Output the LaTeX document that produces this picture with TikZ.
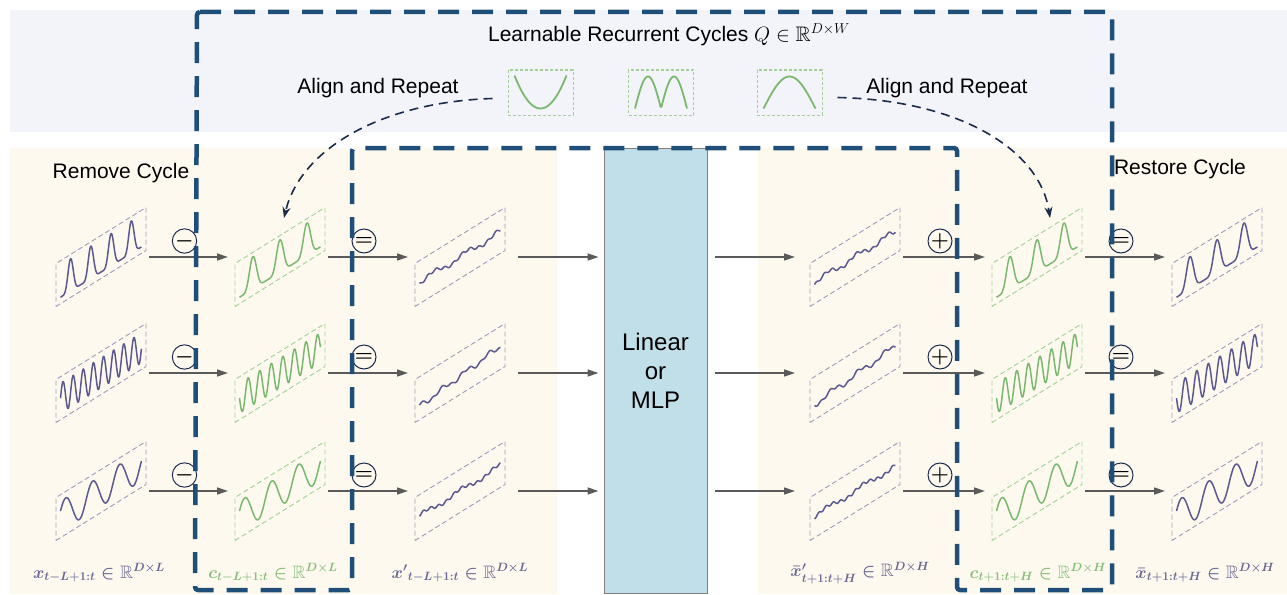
\documentclass[tikz,border=0pt]{standalone}
\usepackage{amsmath}
\usepackage{amssymb}
\usepackage{fontspec}
\setmainfont{Liberation Sans}
\usetikzlibrary{arrows.meta,positioning,calc}

\definecolor{frameblue}{HTML}{1F4E79}
\definecolor{navy}{HTML}{1C2B4C}
\definecolor{bandgrey}{HTML}{F3F4FA}
\definecolor{paneyellow}{HTML}{FDF9EE}
\definecolor{mlpblue}{HTML}{C0DFE8}
\definecolor{mlpline}{HTML}{7F7F7F}
\definecolor{arrowgrey}{HTML}{5A5A5A}
\definecolor{wavepurple}{HTML}{5C5890}
\definecolor{framepurple}{HTML}{9E9BBA}
\definecolor{wavegreen}{HTML}{7BB86F}
\definecolor{framegreen}{HTML}{A3D098}
\definecolor{labelpurple}{HTML}{6A6793}
\definecolor{labelgreen}{HTML}{86BE79}

\tikzset{
  flow/.style={arrowgrey, line width=1.6pt, -{Triangle[length=11pt,width=7pt]}},
  op/.style={circle, draw=navy, line width=1pt, minimum size=24pt, inner sep=0pt, font=\fontsize{22}{22}\selectfont\boldmath},
  panelframe/.style={dash pattern=on 5pt off 3pt, line width=0.9pt},
  wave/.style={line width=1.5pt, line join=round},
  cyclebox/.style={draw=framegreen, dash pattern=on 3pt off 2pt, line width=1pt, minimum width=65pt, minimum height=45pt},
  cyclecurve/.style={wavegreen, line width=1.8pt},
  alignarrow/.style={navy, line width=1.6pt, dash pattern=on 9pt off 6pt, -{Stealth[length=11pt,width=8pt]}},
  cycleframe/.style={frameblue, line width=4.5pt, dash pattern=on 21pt off 13pt, rounded corners=3pt},
  mlpbox/.style={draw=mlpline, fill=mlpblue, line width=1pt, minimum width=103pt, minimum height=445pt, align=center, font=\fontsize{24}{29}\selectfont},
  heading/.style={font=\fontsize{21}{25}\selectfont},
  dimlabel/.style={font=\fontsize{18}{22}\selectfont\boldmath},
}

% slanted series panel: name, centre, frame colour, wave colour, wave
\newcommand{\seriespanel}[5]{%
  \coordinate (#1) at #2;
  \coordinate (#1-r) at ($(#1)+(48,0)$);
  \coordinate (#1-l) at ($(#1)+(-52,0)$);
  \begin{scope}[shift={(#1)}, x={(45pt,28pt)}, y={(0pt,21.5pt)}]
    \draw[#3, panelframe] (-1,-1) -- (1,-1) -- (1,1) -- (-1,1) -- cycle;
    \draw[#4, wave] plot[domain=-0.9:0.9, samples=160] (\x,{#5});
  \end{scope}
}

\begin{document}
\begin{tikzpicture}[x=1pt,y=-1pt]
\useasboundingbox (0,0) rectangle (1287,594);
% backgrounds
\fill[bandgrey] (10,10) rectangle (1287,132);
\fill[paneyellow] (10,148) rectangle (557,594);
\fill[paneyellow] (758,148) rectangle (1287,594);

% learnable cycles
\node[heading] (title) at (669,35) {Learnable Recurrent Cycles $Q \in \mathbb{R}^{D\times W}$};
\node[cyclebox] (q1) at (540.5,92.5) {};
\node[cyclebox] (q2) at (661,92.5) {};
\node[cyclebox] (q3) at (789.5,92.5) {};
\draw[cyclecurve, shift={(q1)}] plot[domain=-26:26, samples=40] (\x,{16-33*(\x/26)*(\x/26)});
\draw[cyclecurve, shift={(q2)}] plot[domain=-26:26, samples=60] (\x,{16-32*abs(sin(180*(\x+26)/26))});
\draw[cyclecurve, shift={(q3)}] plot[domain=-26:26, samples=40] (\x,{16-32*cos(90*\x/26)});
\node[heading] (alignL) at (378,88) {Align and Repeat};
\node[heading] (alignR) at (947,88) {Align and Repeat};

\node[heading] (remove) at (121,173) {Remove Cycle};
\node[heading] (restore) at (1180,169) {Restore Cycle};

% input side
\seriespanel{in1}{(101,257)}{framepurple}{wavepurple}{-0.7+1.5*((1+sin(800*\x-90))/2)^3}
\seriespanel{in2}{(101,373)}{framepurple}{wavepurple}{0.7*sin(1600*\x)}
\seriespanel{in3}{(101,491)}{framepurple}{wavepurple}{0.7*sin(600*\x+200)}
\seriespanel{c1}{(280,257)}{framegreen}{wavegreen}{-0.7+1.5*((1+sin(600*\x+90))/2)^3}
\seriespanel{c2}{(280,373)}{framegreen}{wavegreen}{0.7*sin(1400*\x)}
\seriespanel{c3}{(280,491)}{framegreen}{wavegreen}{0.7*sin(600*\x+200)}
\seriespanel{xp1}{(460,257)}{framepurple}{wavepurple}{0.12*sin(500*\x+20)+0.06*sin(1900*\x)}
\seriespanel{xp2}{(460,373)}{framepurple}{wavepurple}{-0.15+0.25*\x+0.1*sin(700*\x)+0.06*sin(1700*\x+40)}
\seriespanel{xp3}{(460,491)}{framepurple}{wavepurple}{0.1*sin(450*\x+80)+0.06*sin(2100*\x)}

% output side
\seriespanel{xb1}{(855,257)}{framepurple}{wavepurple}{0.12*sin(550*\x+60)+0.06*sin(2000*\x+10)}
\seriespanel{xb2}{(855,373)}{framepurple}{wavepurple}{-0.1+0.2*\x+0.12*sin(600*\x+30)+0.06*sin(1800*\x)}
\seriespanel{xb3}{(855,491)}{framepurple}{wavepurple}{0.1*sin(450*\x)+0.06*sin(2200*\x+60)}
\seriespanel{cf1}{(1037,257)}{framegreen}{wavegreen}{-0.7+1.5*((1+sin(600*\x+90))/2)^3}
\seriespanel{cf2}{(1037,373)}{framegreen}{wavegreen}{0.7*sin(1400*\x)}
\seriespanel{cf3}{(1037,491)}{framegreen}{wavegreen}{0.7*sin(600*\x+200)}
\seriespanel{out1}{(1217,257)}{framepurple}{wavepurple}{-0.7+1.5*((1+sin(600*\x+90))/2)^3}
\seriespanel{out2}{(1217,373)}{framepurple}{wavepurple}{0.7*sin(1400*\x)}
\seriespanel{out3}{(1217,491)}{framepurple}{wavepurple}{0.7*sin(600*\x+200)}

\node[mlpbox] (mlp) at (655.5,370.5) {Linear\\or\\MLP};

\foreach \r in {1,2,3} {
  \draw[flow] (in\r-r) -- (c\r-l);
  \draw[flow] (c\r-r) -- (xp\r-l);
  \draw[flow, shorten <=10pt, shorten >=5pt] (xp\r-r) -- (xp\r-r -| mlp.west);
  \draw[flow, shorten <=7pt, shorten >=8pt] (xb\r-l -| mlp.east) -- (xb\r-l);
  \draw[flow] (xb\r-r) -- (cf\r-l);
  \draw[flow] (cf\r-r) -- (out\r-l);
  \node[op] (sub\r) at ($(in\r-r)!0.5!(c\r-l)+(-4,-16)$) {$-$};
  \node[op] (eqa\r) at ($(c\r-r)!0.5!(xp\r-l)+(-4,-16)$) {$=$};
  \node[op] (add\r) at ($(xb\r-r)!0.5!(cf\r-l)+(-4,-16)$) {$+$};
  \node[op] (eqb\r) at ($(cf\r-r)!0.5!(out\r-l)+(-4,-16)$) {$=$};
}

% dimension labels
\node[dimlabel, labelpurple] (xlab) at (99,573) {$x_{t-L+1:t} \in \mathbb{R}^{D\times L}$};
\node[dimlabel, labelgreen] (clab) at (273,573) {$c_{t-L+1:t} \in \mathbb{R}^{D\times L}$};
\node[dimlabel, labelpurple] (xplab) at (460,573) {${x'}_{t-L+1:t} \in \mathbb{R}^{D\times L}$};
\node[dimlabel, labelpurple] (xblab) at (860,573) {${\bar{x}'}_{t+1:t+H} \in \mathbb{R}^{D\times H}$};
\node[dimlabel, labelgreen] (cflab) at (1038,573) {$c_{t+1:t+H} \in \mathbb{R}^{D\times H}$};
\node[dimlabel, labelpurple] (outlab) at (1205,573) {$\bar{x}_{t+1:t+H} \in \mathbb{R}^{D\times H}$};

% align and repeat
\coordinate (c1top) at (284,218);
\coordinate (cf1top) at (1050,218);
\draw[alignarrow] ([xshift=-15pt,yshift=-6pt]q1.west) .. controls (380,102) and (300,150) .. (c1top);
\draw[alignarrow] ([xshift=15pt,yshift=-5pt]q3.east) .. controls (960,100) and (1040,150) .. (cf1top);

% cycle part
\draw[cycleframe] (197,12) -- (1112,12) -- (1112,590) -- (957,590) -- (957,148)
  -- (352,148) -- (352,590) -- (195,590) -- cycle;
\end{tikzpicture}
\end{document}
